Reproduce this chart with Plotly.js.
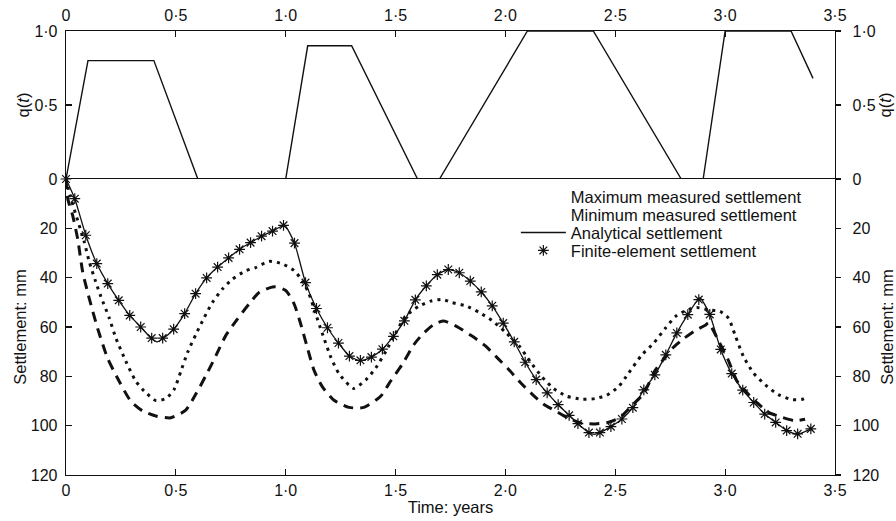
<!DOCTYPE html>
<html>
<head>
<meta charset="utf-8">
<script src="https://cdn.plot.ly/plotly-3.0.1.min.js"></script>
<style>html,body{margin:0;padding:0;background:#fff;}#chart{width:896px;height:521px;}</style>
</head>
<body>
<div id="chart"></div>
<script>
// ---- Data ----
// Load ratio q(t)
const loadTime  = [0, 0.1, 0.4, 0.6, 1.0, 1.1, 1.3, 1.6, 1.7, 2.1, 2.4, 2.8, 2.9, 3.0, 3.3, 3.4];
const loadRatio = [0, 0.8, 0.8, 0, 0, 0.9, 0.9, 0, 0, 1.0, 1.0, 0, 0, 1.0, 1.0, 0.68];

// Maximum measured settlement (dashed)
const maxTime = [0, 0.008, 0.03, 0.053, 0.076, 0.106, 0.144, 0.189, 0.242, 0.295, 0.348, 0.409, 0.477, 0.545, 0.591, 0.636, 0.682, 0.727, 0.78, 0.833, 0.879, 0.947, 1.0, 1.038, 1.068, 1.098, 1.129, 1.167, 1.22, 1.288, 1.356, 1.432, 1.477, 1.53, 1.583, 1.621, 1.674, 1.72, 1.788, 1.848, 1.909, 1.962, 2.015, 2.068, 2.121, 2.174, 2.227, 2.28, 2.348, 2.409, 2.47, 2.523, 2.568, 2.629, 2.682, 2.727, 2.765, 2.81, 2.864, 2.91, 2.924, 2.97, 3.015, 3.053, 3.091, 3.152, 3.197, 3.258, 3.318, 3.364];
const maxSettle = [0, 8.0, 14.7, 24.2, 37.7, 48.5, 60.6, 72.6, 82.0, 90.1, 94.0, 96.1, 96.8, 93.7, 87.2, 79.8, 71.7, 63.5, 56.8, 50.7, 46.0, 43.7, 45.2, 50.6, 58.7, 68.2, 77.6, 84.3, 89.7, 92.6, 92.6, 88.1, 82.0, 75.2, 67.2, 63.1, 59.0, 57.6, 60.3, 63.7, 67.7, 72.4, 77.2, 82.5, 87.2, 91.3, 94.0, 96.7, 99.0, 99.3, 98.6, 96.6, 92.5, 87.0, 77.5, 72.3, 68.2, 64.8, 61.4, 59.3, 58.3, 65.6, 73.6, 81.8, 85.9, 91.3, 94.6, 96.6, 98.0, 97.4];

// Minimum measured settlement (dotted)
const minTime = [0, 0.018, 0.083, 0.106, 0.135, 0.159, 0.197, 0.227, 0.273, 0.318, 0.364, 0.409, 0.455, 0.492, 0.523, 0.553, 0.591, 0.629, 0.666, 0.712, 0.757, 0.818, 0.864, 0.924, 0.985, 1.038, 1.075, 1.106, 1.136, 1.167, 1.205, 1.242, 1.288, 1.31, 1.364, 1.409, 1.455, 1.5, 1.545, 1.606, 1.659, 1.712, 1.757, 1.818, 1.879, 1.939, 2.0, 2.061, 2.114, 2.167, 2.22, 2.28, 2.348, 2.409, 2.462, 2.515, 2.56, 2.62, 2.674, 2.727, 2.773, 2.826, 2.871, 2.924, 2.977, 3.015, 3.045, 3.083, 3.129, 3.182, 3.242, 3.303, 3.348, 3.379];
const minSettle = [0, 6.6, 25.5, 33.6, 41.6, 47.7, 56.4, 64.5, 74.0, 82.0, 86.7, 89.8, 89.0, 85.3, 77.9, 70.4, 63.0, 56.2, 50.1, 44.6, 40.6, 37.2, 35.9, 33.4, 34.4, 37.1, 41.2, 46.5, 54.6, 62.7, 72.2, 78.9, 83.6, 84.9, 81.5, 76.7, 70.0, 62.5, 55.7, 51.6, 49.5, 48.8, 50.1, 51.4, 54.0, 57.4, 62.1, 67.5, 74.2, 80.3, 85.0, 88.1, 89.3, 89.0, 87.6, 84.2, 78.8, 71.4, 66.6, 60.6, 55.8, 53.1, 52.1, 53.1, 53.7, 56.4, 63.2, 71.9, 78.7, 83.4, 87.4, 89.4, 89.4, 88.1];

// Analytical settlement (solid)
const anaTime = [0, 0.04, 0.09, 0.14, 0.19, 0.24, 0.29, 0.34, 0.39, 0.415, 0.44, 0.49, 0.54, 0.59, 0.64, 0.69, 0.74, 0.79, 0.84, 0.89, 0.94, 0.995, 1.04, 1.09, 1.14, 1.19, 1.24, 1.29, 1.34, 1.39, 1.44, 1.49, 1.54, 1.59, 1.64, 1.69, 1.74, 1.79, 1.84, 1.89, 1.94, 1.99, 2.04, 2.09, 2.14, 2.19, 2.24, 2.29, 2.33, 2.38, 2.405, 2.43, 2.48, 2.53, 2.58, 2.63, 2.68, 2.73, 2.78, 2.83, 2.885, 2.93, 2.98, 3.03, 3.08, 3.13, 3.18, 3.23, 3.28, 3.33, 3.39];
const anaSettle = [0, 8.0, 22.8, 34.3, 42.4, 49.2, 55.3, 60.0, 64.8, 66.0, 64.8, 60.9, 54.6, 46.5, 40.1, 35.7, 32.0, 28.5, 25.8, 23.2, 21.1, 18.8, 26.0, 42.0, 52.5, 60.3, 66.5, 71.8, 73.8, 72.2, 69.0, 63.8, 57.5, 49.0, 43.3, 38.8, 36.7, 38.0, 41.4, 45.8, 51.4, 58.4, 66.0, 74.3, 81.3, 86.7, 91.5, 95.8, 99.2, 102.8, 103.5, 102.8, 100.4, 97.3, 92.7, 85.5, 79.4, 71.3, 62.4, 55.0, 48.2, 54.9, 69.1, 78.9, 85.6, 90.6, 95.3, 98.7, 102.0, 103.5, 101.3];

// Finite-element settlement (asterisks)
const feTime = [0, 0.04, 0.09, 0.14, 0.19, 0.24, 0.29, 0.34, 0.39, 0.44, 0.49, 0.54, 0.59, 0.64, 0.69, 0.74, 0.79, 0.84, 0.89, 0.94, 0.99, 1.04, 1.09, 1.14, 1.19, 1.24, 1.29, 1.34, 1.39, 1.44, 1.49, 1.54, 1.59, 1.64, 1.69, 1.74, 1.79, 1.84, 1.89, 1.94, 1.99, 2.04, 2.09, 2.14, 2.19, 2.24, 2.29, 2.33, 2.38, 2.43, 2.48, 2.53, 2.58, 2.63, 2.68, 2.73, 2.78, 2.83, 2.88, 2.93, 2.98, 3.03, 3.08, 3.13, 3.18, 3.23, 3.28, 3.33, 3.39];
const feSettle = [0, 8.0, 22.8, 34.3, 42.4, 49.2, 55.3, 60.0, 64.5, 64.5, 60.9, 54.6, 46.5, 40.1, 35.7, 32.0, 28.5, 25.8, 23.2, 21.1, 18.8, 26.0, 42.0, 52.5, 60.3, 66.5, 71.8, 73.5, 72.2, 69.0, 63.8, 57.5, 49.0, 43.3, 38.8, 36.7, 38.0, 41.4, 45.8, 51.4, 58.4, 66.0, 74.3, 81.3, 86.7, 91.5, 95.8, 99.2, 102.8, 102.8, 100.4, 97.3, 92.7, 85.5, 79.4, 71.3, 62.4, 55.0, 48.9, 54.9, 69.1, 78.9, 85.6, 90.6, 95.3, 98.7, 102.0, 103.3, 101.3];

// Tick labels
const timeTicks = [0, 0.5, 1.0, 1.5, 2.0, 2.5, 3.0, 3.5];
const timeTickText = ['0', '0·5', '1·0', '1·5', '2·0', '2·5', '3·0', '3·5'];
const qTicks = [0, 0.5, 1.0];
const qTickText = ['0', '0·5', '1·0'];
const settleTicks = [20, 40, 60, 80, 100, 120];

const legendNames = ['Maximum measured settlement', 'Minimum measured settlement', 'Analytical settlement', 'Finite-element settlement'];

// ---- Traces ----
const black = '#111';
const traces = [
  {x: loadTime, y: loadRatio, xaxis: 'x2', yaxis: 'y2', mode: 'lines', line: {color: black, width: 1.4}, showlegend: false},
  {x: maxTime, y: maxSettle, xaxis: 'x', yaxis: 'y', mode: 'lines', line: {color: black, width: 3, dash: '10px,7px', shape: 'spline', smoothing: 0.6}, showlegend: false},
  {x: minTime, y: minSettle, xaxis: 'x', yaxis: 'y', mode: 'lines', line: {color: black, width: 3, dash: '3px,5px', shape: 'spline', smoothing: 0.6}, showlegend: false},
  {x: [null], y: [null], xaxis: 'x', yaxis: 'y', mode: 'lines', line: {color: 'rgba(0,0,0,0)', width: 0}, name: legendNames[0], legend: 'legend'},
  {x: [null], y: [null], xaxis: 'x', yaxis: 'y', mode: 'lines', line: {color: 'rgba(0,0,0,0)', width: 0}, name: legendNames[1], legend: 'legend2'},
  {x: anaTime, y: anaSettle, xaxis: 'x', yaxis: 'y', mode: 'lines', line: {color: black, width: 1.3, shape: 'spline', smoothing: 0.5}, name: legendNames[2], legend: 'legend3'},
  {x: feTime, y: feSettle, xaxis: 'x', yaxis: 'y', mode: 'markers', cliponaxis: false, marker: {symbol: 'asterisk-open', size: 9, color: black, line: {color: black, width: 1.2}}, name: legendNames[3], legend: 'legend4'},
  // empty traces that bring the right-hand axes into being
  {x: [null], y: [null], xaxis: 'x2', yaxis: 'y3', mode: 'lines', showlegend: false, hoverinfo: 'skip'},
  {x: [null], y: [null], xaxis: 'x', yaxis: 'y4', mode: 'lines', showlegend: false, hoverinfo: 'skip'}
];

const ff = 'Liberation Sans, Arial, Helvetica, sans-serif';
const font = {family: ff, size: 16, color: black};
const titleFont = {family: ff, size: 16.5, color: black};
const common = {showgrid: false, zeroline: false, showline: true, linecolor: black, linewidth: 1.3, tickcolor: black, tickwidth: 1.2, ticklen: 6, tickfont: font, automargin: false};

function legendAt(y) {
  return {x: 0.585, y: y, xanchor: 'left', yanchor: 'top', bgcolor: 'rgba(0,0,0,0)', borderwidth: 0,
    font: {family: ff, size: 16.5, color: black}, itemwidth: 45};
}

const layout = {
  width: 896, height: 521,
  margin: {l: 66, r: 61, t: 31, b: 46},
  paper_bgcolor: '#fff', plot_bgcolor: '#fff',
  font: font,
  showlegend: true,
  legend: legendAt(0.666),
  legend2: legendAt(0.6255),
  legend3: legendAt(0.585),
  legend4: legendAt(0.5445),
  xaxis: Object.assign({}, common, {domain: [0, 1], range: [0, 3.5], anchor: 'y', tickmode: 'array', tickvals: timeTicks, ticktext: timeTickText, ticks: 'inside', mirror: true, ticklabelstandoff: 0,
    title: {text: 'Time: years', font: titleFont, standoff: 4}}),
  xaxis2: Object.assign({}, common, {domain: [0, 1], range: [0, 3.5], anchor: 'y2', side: 'top', matches: 'x', tickmode: 'array', tickvals: timeTicks, ticktext: timeTickText, ticks: 'inside', ticklabelstandoff: 2}),
  yaxis: Object.assign({}, common, {domain: [0, 0.6667], range: [120, 0], anchor: 'x', tickmode: 'array', tickvals: settleTicks, ticks: 'inside', ticklabelstandoff: 4,
    title: {text: 'Settlement: mm', font: titleFont, standoff: 0}}),
  yaxis2: Object.assign({}, common, {domain: [0.6667, 1], range: [0, 1], anchor: 'x2', tickmode: 'array', tickvals: qTicks, ticktext: qTickText, ticks: 'inside', ticklabelstandoff: 4,
    title: {text: 'q(<i>t</i>)', font: titleFont, standoff: 0}}),
  yaxis3: Object.assign({}, common, {overlaying: 'y2', side: 'right', anchor: 'x2', range: [0, 1], tickmode: 'array', tickvals: qTicks, ticktext: qTickText, ticks: 'outside', ticklen: 5, ticklabelstandoff: 8,
    title: {text: 'q(<i>t</i>)', font: titleFont, standoff: 4}}),
  yaxis4: Object.assign({}, common, {overlaying: 'y', side: 'right', anchor: 'x', range: [120, 0], tickmode: 'array', tickvals: settleTicks, ticks: 'outside', ticklen: 5, ticklabelstandoff: 8,
    title: {text: 'Settlement: mm', font: titleFont, standoff: 4}})
};

Plotly.newPlot('chart', traces, layout, {staticPlot: true, displayModeBar: false});
</script>
</body>
</html>
